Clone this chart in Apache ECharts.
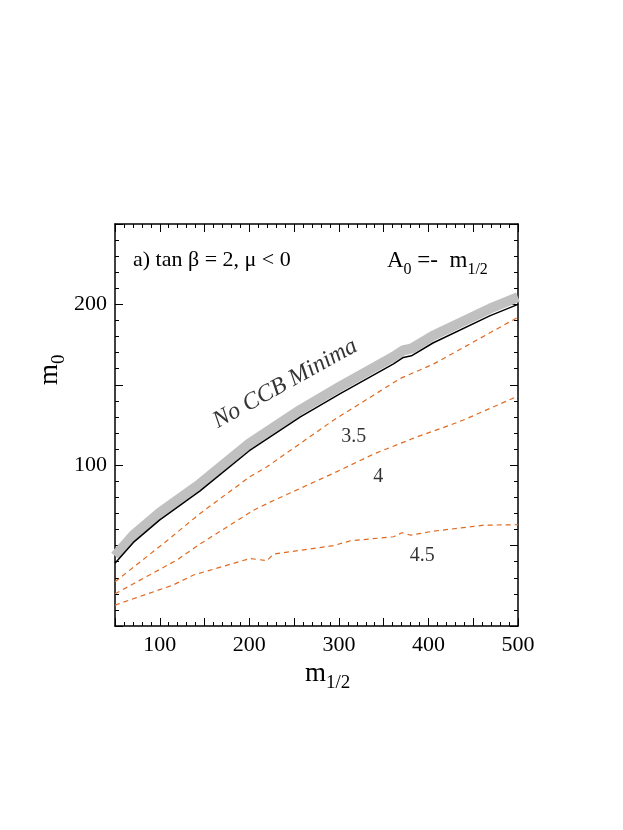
<!DOCTYPE html>
<html><head><meta charset="utf-8">
<script src="https://cdn.jsdelivr.net/npm/echarts@6/dist/echarts.min.js"></script>
<style>html,body{margin:0;padding:0;background:#fff}#c{width:623px;height:830px}</style>
</head><body><div id="c"></div>
<script>
const boundaryX = [50,70.5,100,145,200,257,301.5,361,372,381,405,469,500];
const boundaryY = [39,52,66,84,109,130,144.5,163,167,168,176,193,200];
const bandY     = [43.5,56.5,70.5,88.5,113.5,134.5,149,167.5,171.5,172.5,180.5,197.5,204.5];
const c35X = [50,108,145,201,219.6,294,368.7,406,500];
const c35Y = [27.5,53,70,93,99,128,154,163,192];
const c4X = [50,119,145,204.7,227,294,339,387,424.6,443,500];
const c4Y = [20,41,51,72,78,95,107,117.6,125,129,143];
const c45X = [50,115,137.6,201,219.6,227,294,313,361,370.5,380,406,462,500];
const c45Y = [13,25.5,31.7,42,40.6,44.7,50,53,55.5,58,56.5,59,62.7,63];
const xTickLabels = [100,200,300,400,500];
const yTickLabels = [100,200];
const labelTexts = ['No CCB Minima','3.5','4','4.5'];
const labelX = [240,316.5,344,393];
const labelY = [150.7,117.6,92.8,43.5];

const zip=(a,b)=>a.map((v,i)=>[v,b[i]]);
const font='Liberation Serif, Times New Roman, serif';
const ax=(type,show,min,max)=>({type:'value',min,max,interval:50,position:type,
  axisLine:{show:true,onZero:false,lineStyle:{color:'#000',width:1.5}},
  axisTick:{show:true,inside:true,length:8,lineStyle:{color:'#000'}},
  minorTick:{show:true,splitNumber:5,length:4,lineStyle:{color:'#000'}},
  splitLine:{show:false},
  axisLabel:{show:show,color:'#000',fontFamily:font,fontSize:22,margin:8,
    formatter:v=>((type==='bottom'?xTickLabels:yTickLabels).includes(v)?String(v):'')}});
const dash=(x,y)=>({type:'line',data:zip(x,y),symbol:'none',lineStyle:{color:'#e06a20',width:1.2,type:[5,4]},z:3});
const chart=echarts.init(document.getElementById('c'));
chart.setOption({
  animation:false,
  grid:{left:115,right:105,top:224,bottom:204},
  xAxis:[ax('bottom',true,50,500),ax('top',false,50,500)],
  yAxis:[ax('left',true,0,250),ax('right',false,0,250)],
  graphic:[
    {type:'text',left:133,top:249,style:{text:'a) tan β = 2, μ < 0',font:'22px '+font,fill:'#000'}},
    {type:'text',left:387,top:249,style:{rich:{n:{font:'23px '+font,fill:'#000'},s:{font:'16px '+font,fill:'#000',padding:[18,0,0,0]}},text:'{n|A}{s|0}{n| =-  m}{s|1/2}'}},
    {type:'text',left:305,top:660,style:{rich:{n:{font:'27px '+font,fill:'#000'},s:{font:'19px '+font,fill:'#000',padding:[20,0,0,0]}},text:'{n|m}{s|1/2}'}},
    {type:'text',x:30,y:385,rotation:Math.PI/2,style:{rich:{n:{font:'27px '+font,fill:'#000'},s:{font:'19px '+font,fill:'#000',padding:[20,0,0,0]}},text:'{n|m}{s|0}'}}
  ],
  series:[
    {type:'line',data:zip(boundaryX,bandY),symbol:'none',lineStyle:{color:'#c0c0c0',width:10},z:1},
    {type:'line',data:zip(boundaryX,boundaryY),symbol:'none',lineStyle:{color:'#000',width:1.5},z:2},
    dash(c35X,c35Y),dash(c4X,c4Y),dash(c45X,c45Y),
    {type:'scatter',symbolSize:0,z:5,
     data:labelTexts.map((t,i)=>({value:[labelX[i],labelY[i]],name:t,
       label:{show:true,position:'inside',formatter:t,rotate:i===0?29:0,
         fontFamily:font,fontStyle:i===0?'italic':'normal',fontSize:i===0?24:20,color:'#000'}}))}
  ]
});
</script></body></html>
